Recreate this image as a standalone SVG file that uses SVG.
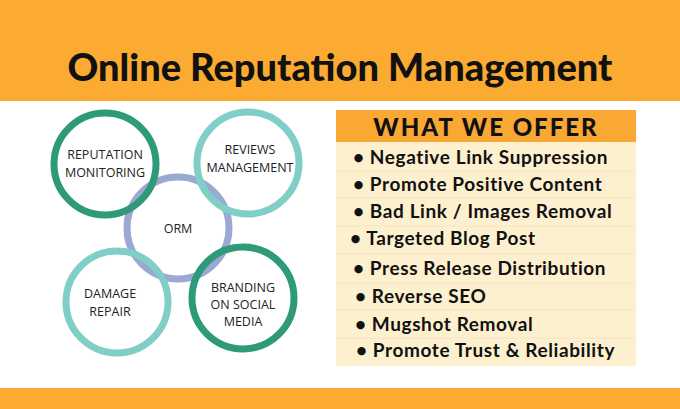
<svg xmlns="http://www.w3.org/2000/svg" width="680" height="409" viewBox="0 0 680 409">
<style>
.c{fill:none;stroke-width:7}
.dg{stroke:#2f9a7a}.lt{stroke:#80cfc6}.pu{stroke:#9aa8d2}
.ct{font-family:"Open Sans",sans-serif;font-size:12.5px;fill:#222;text-anchor:middle}
.it{font-family:Lato,sans-serif;font-weight:700;font-size:19px;letter-spacing:0.6px;fill:#111}
.row{fill:#fdf0cf}
.sep{stroke:#f3e6c4;stroke-width:1}
</style>
<rect width="680" height="409" fill="#fff"/>
<rect width="680" height="101" fill="#fbab31"/>
<rect y="388" width="680" height="21" fill="#fbab31"/>
<text x="340" y="81" text-anchor="middle" font-family="Lato,sans-serif" font-weight="900" font-size="38" fill="#111">Online Reputation Management</text>
<g id="orm"><circle class="c pu" cx="178" cy="228" r="51"/><text class="ct" x="178" y="233" font-size="14">ORM</text></g>
<g id="reputation"><circle class="c dg" cx="105" cy="164" r="51"/><text class="ct" x="105" y="159">REPUTATION</text><text class="ct" x="105" y="177">MONITORING</text></g>
<g id="reviews"><circle class="c lt" cx="248" cy="163" r="51"/><text class="ct" x="250" y="154">REVIEWS</text><text class="ct" x="250" y="172">MANAGEMENT</text></g>
<g id="damage"><circle class="c lt" cx="117" cy="302" r="51"/><text class="ct" x="110" y="298">DAMAGE</text><text class="ct" x="110" y="316">REPAIR</text></g>
<g id="branding"><circle class="c dg" cx="243" cy="298" r="51"/><text class="ct" x="243" y="292">BRANDING</text><text class="ct" x="243" y="309">ON SOCIAL</text><text class="ct" x="243" y="326">MEDIA</text></g>
<g id="offer">
<rect x="336" y="110" width="300" height="32" fill="#f9a834"/>
<text x="486" y="136" text-anchor="middle" font-family="Lato,sans-serif" font-weight="900" font-size="24" letter-spacing="2" fill="#111">WHAT WE OFFER</text>
<rect class="row" x="336" y="142" width="300" height="224"/>
<g class="sep"><line x1="336" x2="636" y1="171" y2="171"/><line x1="336" x2="636" y1="198" y2="198"/><line x1="336" x2="636" y1="226" y2="226"/><line x1="336" x2="636" y1="254" y2="254"/><line x1="336" x2="636" y1="283" y2="283"/><line x1="336" x2="636" y1="310" y2="310"/><line x1="336" x2="636" y1="338" y2="338"/></g>
<text class="it" x="353" y="164">• Negative Link Suppression</text>
<text class="it" x="353" y="191">• Promote Positive Content</text>
<text class="it" x="353" y="218">• Bad Link / Images Removal</text>
<text class="it" x="350" y="245">• Targeted Blog Post</text>
<text class="it" x="353" y="275">• Press Release Distribution</text>
<text class="it" x="355" y="303">• Reverse SEO</text>
<text class="it" x="355" y="331">• Mugshot Removal</text>
<text class="it" x="356" y="357">• Promote Trust &amp; Reliability</text>
</g>
</svg>
